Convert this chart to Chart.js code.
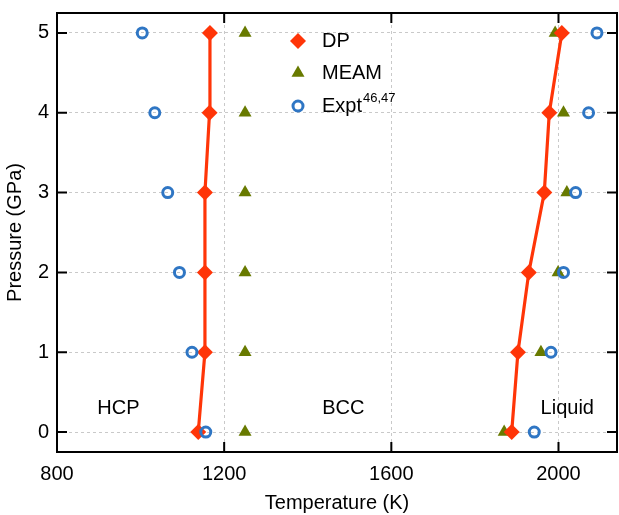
<!DOCTYPE html>
<html>
<head>
<meta charset="utf-8">
<script src="https://cdn.jsdelivr.net/npm/chart.js@4/dist/chart.umd.min.js"></script>
<style>
  html, body { margin: 0; padding: 0; background: #fff; }
  #wrap { width: 619px; height: 515px; }
</style>
</head>
<body>
<div id="wrap"><canvas id="phase"></canvas></div>
<script>
// pressure (GPa) on y, melting / transition temperature (K) on x
var pressure = [0, 1, 2, 3, 4, 5];
var dpHcpBcc = [1138, 1154, 1154, 1154, 1165, 1166];
var dpMelt = [1888, 1903, 1929, 1966, 1978, 2008];
var meamHcpBcc = [1250, 1250, 1250, 1250, 1250, 1250];
var meamMelt = [1870, 1958, 1999, 2020, 2012, 1992];
var exptHcpBcc = [1156, 1123, 1093, 1065, 1034, 1004];
var exptMelt = [1942, 1982, 2012, 2041, 2072, 2092];
var xTicks = [800, 1200, 1600, 2000];
var yTicks = [0, 1, 2, 3, 4, 5];
var phaseNames = ['HCP', 'BCC', 'Liquid'];
var phaseT = [947, 1485, 2021];
var phaseP = [0.3, 0.3, 0.3];

var RED = '#ff3508';
var OLIVE = '#687a00';
var BLUE = '#2f76c4';
var FONT = "'Liberation Sans', Arial, Helvetica, sans-serif";

function pts(xs) {
    return xs.map(function(x, i) { return {x: x, y: pressure[i]}; });
}
var phaseLabels = phaseNames.map(function(n, i) { return {text: n, x: phaseT[i], y: phaseP[i]}; });

// frame, inward ticks, phase names, legend
var decor = {
    id: 'decor',
    afterDraw: function(chart) {
        var c = chart.ctx, a = chart.chartArea;
        var xs = chart.scales.x, ys = chart.scales.y;
        var tl = 10;
        c.save();
        c.strokeStyle = '#000';
        c.lineWidth = 2;
        c.strokeRect(a.left, a.top, a.right - a.left, a.bottom - a.top);
        c.beginPath();
        xTicks.forEach(function(v) {
            var px = xs.getPixelForValue(v);
            c.moveTo(px, a.bottom); c.lineTo(px, a.bottom - tl);
            c.moveTo(px, a.top); c.lineTo(px, a.top + tl);
        });
        yTicks.forEach(function(v) {
            var py = ys.getPixelForValue(v);
            c.moveTo(a.left, py); c.lineTo(a.left + tl, py);
            c.moveTo(a.right, py); c.lineTo(a.right - tl, py);
        });
        c.stroke();

        c.fillStyle = '#000';
        c.font = '20px ' + FONT;
        c.textAlign = 'center';
        c.textBaseline = 'middle';
        phaseLabels.forEach(function(p) {
            c.fillText(p.text, xs.getPixelForValue(p.x), ys.getPixelForValue(p.y));
        });

        // legend
        var lx = a.left + 241, tx = a.left + 265;
        var rows = [a.top + 28, a.top + 60, a.top + 93];
        c.fillStyle = RED;
        c.beginPath();
        c.moveTo(lx, rows[0] - 8); c.lineTo(lx + 8, rows[0]);
        c.lineTo(lx, rows[0] + 8); c.lineTo(lx - 8, rows[0]);
        c.closePath(); c.fill();
        c.fillStyle = OLIVE;
        c.beginPath();
        c.moveTo(lx, rows[1] - 7.5); c.lineTo(lx + 6.5, rows[1] + 3.75);
        c.lineTo(lx - 6.5, rows[1] + 3.75);
        c.closePath(); c.fill();
        c.strokeStyle = BLUE; c.lineWidth = 3;
        c.beginPath(); c.arc(lx, rows[2], 5, 0, Math.PI * 2); c.stroke();

        c.fillStyle = '#000';
        c.textAlign = 'left';
        c.font = '20px ' + FONT;
        c.fillText('DP', tx, rows[0]);
        c.fillText('MEAM', tx, rows[1]);
        c.fillText('Expt', tx, rows[2]);
        var w = c.measureText('Expt').width;
        c.font = '13px ' + FONT;
        c.fillText('46,47', tx + w + 1, rows[2] - 8);
        c.restore();
    }
};

function setTicks(list) {
    return function(s) {
        s.ticks = list.map(function(v) { return {value: v}; });
    };
}
function noPad(size, dim) {
    return function(s) {
        s[dim] = size;
        s.paddingTop = 0; s.paddingBottom = 0;
        s.paddingLeft = 0; s.paddingRight = 0;
    };
}

var ctx = document.getElementById('phase').getContext('2d');
var chart = new Chart(ctx, {
    type: 'scatter',
    data: {
        datasets: [
        {
            label: 'Expt',
            data: pts(exptHcpBcc).concat(pts(exptMelt)),
            pointStyle: 'circle',
            pointRadius: 5,
            pointHoverRadius: 5,
            pointBorderWidth: 3,
            pointBackgroundColor: 'rgba(255,255,255,0)',
            pointBorderColor: BLUE,
            order: 0
        },
        {
            label: 'DP',
            data: pts(dpHcpBcc),
            showLine: true,
            borderColor: RED,
            borderWidth: 3.2,
            pointStyle: 'rectRot',
            pointRadius: 8,
            pointHoverRadius: 8,
            pointBorderWidth: 0,
            pointBackgroundColor: RED,
            order: 1
        },
        {
            label: 'DP melt',
            data: pts(dpMelt),
            showLine: true,
            borderColor: RED,
            borderWidth: 3.2,
            pointStyle: 'rectRot',
            pointRadius: 8,
            pointHoverRadius: 8,
            pointBorderWidth: 0,
            pointBackgroundColor: RED,
            order: 1
        },
        {
            label: 'MEAM',
            data: pts(meamHcpBcc).concat(pts(meamMelt)),
            pointStyle: 'triangle',
            pointRadius: 7.5,
            pointHoverRadius: 7.5,
            pointBorderWidth: 0,
            pointBackgroundColor: OLIVE,
            order: 2
        }]
    },
    options: {
        responsive: true,
        maintainAspectRatio: false,
        animation: false,
        layout: { autoPadding: false, padding: { top: 13, right: 2, left: 0, bottom: 0 } },
        plugins: {
            legend: { display: false },
            tooltip: { enabled: false }
        },
        scales: {
            x: {
                type: 'linear',
                min: 800,
                max: 2140,
                afterBuildTicks: setTicks(xTicks),
                afterFit: noPad(63, 'height'),
                grid: { color: '#c9c9c9', lineWidth: 1, drawTicks: false },
                border: { display: false, dash: [3, 3] },
                ticks: { color: '#000', padding: 10, font: { family: FONT, size: 20 }, maxRotation: 0,
                         callback: function(v) { return String(v); } },
                title: { display: true, text: 'Temperature (K)', color: '#000',
                         font: { family: FONT, size: 20 }, padding: { top: 3, bottom: 0 } }
            },
            y: {
                type: 'linear',
                min: -0.25,
                max: 5.25,
                afterBuildTicks: setTicks(yTicks),
                afterFit: noPad(57, 'width'),
                grid: { color: '#c9c9c9', lineWidth: 1, drawTicks: false },
                border: { display: false, dash: [3, 3] },
                ticks: { color: '#000', padding: 8, font: { family: FONT, size: 20 },
                         callback: function(v) { return String(v); } },
                title: { display: true, text: 'Pressure (GPa)', color: '#000',
                         font: { family: FONT, size: 20 }, padding: { top: 3, bottom: 0 } }
            }
        }
    },
    plugins: [decor]
});
</script>
</body>
</html>
